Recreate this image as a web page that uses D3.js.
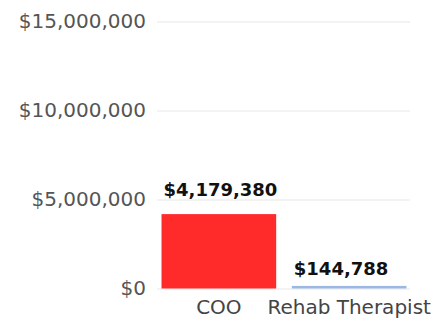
<!DOCTYPE html>
<html>
<head>
<meta charset="utf-8">
<script src="https://cdn.jsdelivr.net/npm/d3@7"></script>
<style>
  body { margin: 0; background: #fff; }
  svg { display: block; }
  .tick text { font-family: "DejaVu Sans", sans-serif; }
</style>
</head>
<body>
<div id="chart"></div>
<script>
// datos del grafico
const categorias = ["COO", "Rehab Therapist"];
const valores = [4179380, 144788];
const colores = ["#ff2b2b", "#9db7e4"];
const ticksY = [0, 5000000, 10000000, 15000000];

const ancho = 438, alto = 321;
const svg = d3.select("#chart").append("svg")
    .attr("width", ancho)
    .attr("height", alto);

const escalaY = d3.scaleLinear()
    .domain([0, 15000000])
    .range([288.5, 21.5]);

const escalaX = d3.scaleBand()
    .domain(categorias)
    .range([155, 413])
    .paddingInner(0.12)
    .paddingOuter(0.05);

const formato = d3.format("$,");

// lineas de la grilla
const grilla = svg.append("g")
    .attr("transform", "translate(157, 0)")
    .call(d3.axisLeft(escalaY).tickValues(ticksY).tickSize(-253).tickFormat(""));
grilla.select(".domain").remove();
grilla.selectAll(".tick line")
    .attr("stroke", "#efefef")
    .attr("stroke-width", 1.5);

// eje y (solo texto)
const ejeY = svg.append("g")
    .attr("transform", "translate(146, 0)")
    .call(d3.axisLeft(escalaY).tickValues(ticksY).tickSize(0).tickPadding(0).tickFormat(formato));
ejeY.select(".domain").remove();
ejeY.selectAll(".tick text")
    .attr("fill", "#555")
    .style("font-size", "20px");

// barras
const datos = categorias.map((c, i) => ({ cat: c, valor: valores[i], color: colores[i] }));

svg.selectAll("rect.barra")
    .data(datos)
    .join("rect")
    .attr("class", "barra")
    .attr("x", d => escalaX(d.cat))
    .attr("y", d => escalaY(d.valor))
    .attr("width", escalaX.bandwidth())
    .attr("height", d => escalaY(0) - escalaY(d.valor))
    .attr("fill", d => d.color);

// etiquetas de valor
svg.selectAll("text.valor")
    .data(datos)
    .join("text")
    .attr("class", "valor")
    .attr("x", d => escalaX(d.cat) + 2)
    .attr("y", d => escalaY(d.valor) - 11 - 0.09 * (escalaY(0) - escalaY(d.valor)))
    .attr("font-family", "'DejaVu Sans', sans-serif")
    .attr("font-weight", "bold")
    .attr("font-size", 18)
    .attr("fill", "#111")
    .text(d => formato(d.valor));

// eje x (categorias)
const ejeX = svg.append("g")
    .attr("transform", `translate(0, ${escalaY(0)})`)
    .call(d3.axisBottom(escalaX).tickSize(0).tickPadding(0));
ejeX.select(".domain").remove();
ejeX.selectAll(".tick text")
    .attr("dy", 0)
    .attr("y", 25)
    .attr("fill", "#444")
    .style("font-size", "20px");
</script>
</body>
</html>
